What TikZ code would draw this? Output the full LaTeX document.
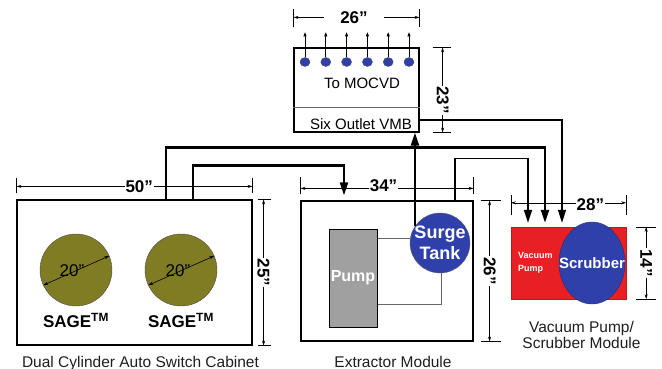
\documentclass[tikz,border=0pt]{standalone}
\usepackage{fontspec}
\setmainfont{Liberation Sans}
\usetikzlibrary{positioning,arrows.meta,shapes.geometric}

\definecolor{sageolive}{RGB}{128,124,36}
\definecolor{tankblue}{RGB}{48,64,170}
\definecolor{pumpred}{RGB}{232,32,36}
\definecolor{pumpgray}{RGB}{160,160,160}
\definecolor{captext}{RGB}{30,30,30}

\begin{document}
\begin{tikzpicture}[
    x=1pt, y=-1pt,
    box/.style={
        draw,
        line width=1.2pt,
        inner sep=0pt
    },
    sage/.style={
        circle,
        draw=black!70,
        fill=sageolive,
        minimum size=72pt,
        inner sep=0pt
    },
    tank/.style={
        circle,
        draw=black!60,
        fill=tankblue,
        inner sep=0pt
    },
    tanklbl/.style={
        text=white,
        align=center,
        inner sep=0pt,
        font=\bfseries\fontsize{18}{21}\selectfont
    },
    outlet/.style={
        ellipse,
        draw=black!70,
        fill=tankblue,
        minimum width=10pt,
        minimum height=9pt,
        inner sep=0pt
    },
    pipe/.style={line width=2.2pt, -{Triangle[length=13pt,width=8pt]}},
    dim/.style={line width=0.6pt, {Stealth[length=5pt,width=3pt]}-{Stealth[length=5pt,width=3pt]}},
    tick/.style={line width=0.6pt},
    dimlbl/.style={fill=white, inner sep=1pt, font=\bfseries\fontsize{17}{18}\selectfont},
    caption/.style={text=captext, align=center, inner sep=0pt, font=\fontsize{15.5}{16}\selectfont},
    lbl/.style={inner sep=0pt, font=\fontsize{15}{17}\selectfont}
]
\useasboundingbox (0,0) rectangle (662,369);

% Cabinet
\node[box, minimum width=235pt, minimum height=145pt] (cab) at (134.5,272.5) {};
\node[sage] (sage1) at (76,270) {};
\node[sage] (sage2) at (181,270) {};
\draw[dim] (sage1.205) -- (sage1.23);
\draw[dim] (sage2.205) -- (sage2.23);
\node[inner sep=0pt, font=\fontsize{17}{18}\selectfont] (dia1) at (72,271) {20”};
\node[inner sep=0pt, font=\fontsize{17}{18}\selectfont] (dia2) at (178,271) {20”};
\node[inner sep=0pt, below=7pt of sage1, font=\bfseries\fontsize{17}{18}\selectfont] (sagelbl1) {SAGE\textsuperscript{TM}};
\node[inner sep=0pt, below=7pt of sage2, font=\bfseries\fontsize{17}{18}\selectfont] (sagelbl2) {SAGE\textsuperscript{TM}};
\node[caption, below=10pt of cab, xshift=6pt] (cabcap) {Dual Cylinder Auto Switch Cabinet};

% VMB
\node[box, minimum width=125pt, minimum height=84pt] (vmb) at (356.5,90) {};
\draw[line width=0.8pt, black!60] ([yshift=-17pt]vmb.west) -- ([yshift=-17pt]vmb.east);
\node[lbl] (mocvd) at (362,83) {To MOCVD};
\node[lbl] (vmbname) at (361,124) {Six Outlet VMB};
\foreach \i in {0,...,5}{
    \node[outlet] (out\i) at ({305+20.8*\i},62) {};
    \draw[line width=0.7pt, -{Triangle[length=4pt,width=3pt]}] (out\i.north) -- ++(0,-25);
}

% Extractor
\node[box, minimum width=172pt, minimum height=140pt] (ext) at (387,271) {};
\node[draw, line width=1pt, fill=pumpgray, minimum width=48pt, minimum height=98pt, inner sep=0pt,
      text=white, font=\bfseries\fontsize{16}{17}\selectfont] (pump) at (353,278) {Pump};
\draw[line width=0.8pt, black!60] (pump.east |- 0,238) -- (410,238);
\draw[line width=0.8pt, black!60] ([yshift=-26pt]pump.east) -| (441,272);
\node[tank, minimum size=60pt] (surge) at (440,243) {};
\node[tanklbl] (surgelbl) at (surge.center) {Surge\\Tank};
\node[caption, below=14pt of ext, xshift=6pt] (extcap) {Extractor Module};

% Vacuum pump / scrubber
\node[draw=pumpred!80!black, fill=pumpred, minimum width=115pt, minimum height=72pt, inner sep=0pt] (vps) at (568.5,263) {};
\node[anchor=west, align=left, inner sep=0pt, text=white, font=\bfseries\fontsize{9}{13}\selectfont] (vpslbl) at (518,263) {Vacuum\\Pump};
\node[ellipse, fill=tankblue, draw=tankblue!70!black, minimum width=66pt, minimum height=82pt, inner sep=0pt] (scrub) at (592,263) {};
\node[inner sep=0pt, text=white, font=\bfseries\fontsize{15}{16}\selectfont] (scrublbl) at (scrub.center) {Scrubber};
\node[caption, below=22pt of vps, xshift=13pt] (vpscap) {Vacuum Pump/\\Scrubber Module};

% Maße
\draw[tick] ([yshift=6pt]cab.north west) -- ([yshift=21pt]cab.north west);
\draw[tick] ([yshift=6pt]cab.north east) -- ([yshift=21pt]cab.north east);
\draw[dim] ([yshift=13pt]cab.north west) -- node[dimlbl, pos=0.52] (d50) {50”} ([yshift=13pt]cab.north east);

\draw[tick] ([xshift=5pt]cab.north east) -- ([xshift=18pt]cab.north east);
\draw[tick] ([xshift=5pt]cab.south east) -- ([xshift=18pt]cab.south east);
\draw[dim] ([xshift=11pt]cab.north east) -- node[dimlbl, rotate=-90] (d25) {25”} ([xshift=11pt]cab.south east);

\draw[tick] ([yshift=20pt]vmb.north west) -- ([yshift=38pt]vmb.north west);
\draw[tick] ([yshift=20pt]vmb.north east) -- ([yshift=38pt]vmb.north east);
\draw[dim] ([yshift=30pt]vmb.north west) -- node[dimlbl, pos=0.48, inner xsep=16pt] (d26a) {26”} ([yshift=30pt]vmb.north east);

\draw[tick] ([xshift=13pt]vmb.north east) -- ([xshift=31pt]vmb.north east);
\draw[tick] ([xshift=13pt]vmb.south east) -- ([xshift=31pt]vmb.south east);
\draw[dim] ([xshift=23pt]vmb.north east) -- node[dimlbl, rotate=-90, pos=0.62] (d23) {23”} ([xshift=23pt]vmb.south east);

\draw[tick] ([yshift=6pt]ext.north west) -- ([yshift=23pt]ext.north west);
\draw[tick] ([yshift=6pt]ext.north east) -- ([yshift=23pt]ext.north east);
\draw[dim] ([yshift=12pt]ext.north west) -- node[dimlbl, pos=0.48, yshift=3pt] (d34) {34”} ([yshift=12pt]ext.north east);

\draw[tick] ([xshift=7pt]ext.north east) -- ([xshift=27pt]ext.north east);
\draw[tick] ([xshift=7pt]ext.south east) -- ([xshift=27pt]ext.south east);
\draw[dim] ([xshift=16pt]ext.north east) -- node[dimlbl, rotate=-90] (d26b) {26”} ([xshift=16pt]ext.south east);

\draw[tick] ([yshift=12pt]vps.north west) -- ([yshift=32pt]vps.north west);
\draw[tick] ([yshift=12pt]vps.north east) -- ([yshift=32pt]vps.north east);
\draw[dim] ([yshift=24pt]vps.north west) -- node[dimlbl, pos=0.69, yshift=-2pt] (d28) {28”} ([yshift=24pt]vps.north east);

\draw[tick] ([xshift=10pt]vps.north east) -- ([xshift=30pt]vps.north east);
\draw[tick] ([xshift=10pt]vps.south east) -- ([xshift=30pt]vps.south east);
\draw[dim] ([xshift=20pt]vps.north east) -- node[dimlbl, rotate=-90] (d14) {14”} ([xshift=20pt]vps.south east);

% Leitungen
\draw[pipe] ([xshift=31.5pt]cab.north) -- ++(0,-52) -| ([xshift=-23.5pt,yshift=4pt]vps.north);
\draw[pipe] ([xshift=58.5pt]cab.north) -- ++(0,-34) -| ([xshift=-43pt,yshift=5pt]ext.north);
\draw[pipe] (surge.146) -- (surge.146 |- vmb.south);
\draw[pipe, line width=1.3pt] ([yshift=-30pt]vmb.east) -| ([xshift=-6.5pt,yshift=4pt]vps.north);
\draw[pipe, line width=1.7pt] ([xshift=68pt]ext.north) -- ++(0,-42) -| ([xshift=-40.5pt,yshift=4pt]vps.north);

\end{tikzpicture}
\end{document}
